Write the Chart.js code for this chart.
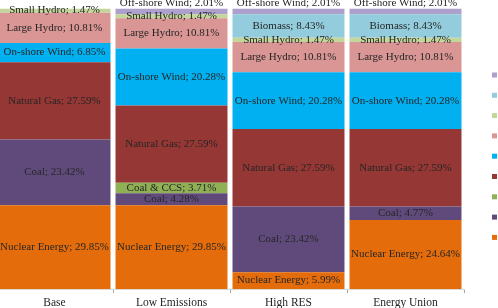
<!DOCTYPE html>
<html lang="en">
<head>
<meta charset="UTF-8">
<title>Generation mix by scenario</title>
<style>
  html, body { margin: 0; padding: 0; background: #fff; overflow: hidden; }
  #wrap { position: relative; width: 498px; height: 308px; overflow: hidden; }
  #mix { position: absolute; left: -4px; top: 0; }
</style>
</head>
<body>
<div id="wrap"><canvas id="mix" width="502" height="308"></canvas></div>
<script src="https://cdn.jsdelivr.net/npm/chart.js"></script>
<script>
  // scenarios and shares (%) per technology, bottom to top of each stack
  const scenarios = ['Base', 'Low Emissions', 'High RES', 'Energy Union'];
  const nuclear    = [29.85, 29.85, 5.99, 24.64];
  const coal       = [23.42, 4.28, 23.42, 4.77];
  const coalCCS    = [null, 3.71, null, null];
  const naturalGas = [27.59, 27.59, 27.59, 27.59];
  const onshore    = [6.85, 20.28, 20.28, 20.28];
  const largeHydro = [10.81, 10.81, 10.81, 10.81];
  const smallHydro = [1.47, 1.47, 1.47, 1.47];
  const biomass    = [null, null, 8.43, 8.43];
  const offshore   = [null, 2.01, 2.01, 2.01];

  const series = [
    { name: 'Nuclear Energy', data: nuclear,    color: '#E46C0A' },
    { name: 'Coal',           data: coal,       color: '#604A7B' },
    { name: 'Coal & CCS',     data: coalCCS,    color: '#8FB054' },
    { name: 'Natural Gas',    data: naturalGas, color: '#953735' },
    { name: 'On-shore Wind',  data: onshore,    color: '#00B0F0' },
    { name: 'Large Hydro',    data: largeHydro, color: '#D99694' },
    { name: 'Small Hydro',    data: smallHydro, color: '#C3D69B' },
    { name: 'Biomass',        data: biomass,    color: '#93CDDD' },
    { name: 'Off-shore Wind', data: offshore,   color: '#ADA0CC' }
  ];

  const serif = '"Liberation Serif", "Times New Roman", serif';

  // text inside each segment; off-shore wind sits above the stack
  const segmentLabels = {
    id: 'segmentLabels',
    afterDatasetsDraw(chart) {
      const ctx = chart.ctx;
      ctx.save();
      ctx.font = '11px ' + serif;
      ctx.fillStyle = '#262626';
      ctx.textAlign = 'center';
      ctx.textBaseline = 'middle';
      chart.data.datasets.forEach((ds, di) => {
        const meta = chart.getDatasetMeta(di);
        meta.data.forEach((bar, i) => {
          const v = ds.data[i];
          if (v == null) return;
          const txt = ds.label + '; ' + v.toFixed(2) + '%';
          let y = (bar.y + bar.base) / 2;
          if (ds.label === 'Off-shore Wind') y = bar.y - 5.5;
          ctx.fillText(txt, bar.x, y);
        });
      });
      ctx.restore();
    }
  };

  // colour squares on the right edge (legend text is cut off in the original)
  const sideKeys = {
    id: 'sideKeys',
    afterDraw(chart) {
      const ctx = chart.ctx;
      const ds = chart.data.datasets.slice().reverse();
      ds.forEach((d, i) => {
        ctx.fillStyle = d.backgroundColor;
        ctx.fillRect(496, 72.5 + i * 20.3, 5, 5);
      });
    }
  };

  new Chart(document.getElementById('mix'), {
    type: 'bar',
    data: {
      labels: scenarios,
      datasets: series.map(s => ({
        label: s.name,
        data: s.data,
        backgroundColor: s.color,
        borderWidth: 0,
        barPercentage: 0.957,
        categoryPercentage: 1
      }))
    },
    options: {
      responsive: false,
      animation: false,
      layout: { padding: { top: 8.5, right: 34, left: 0, bottom: 0 } },
      plugins: { legend: { display: false }, tooltip: { enabled: false } },
      scales: {
        x: {
          stacked: true,
          offset: true,
          grid: { display: true, drawOnChartArea: false, tickLength: 4, color: '#a6a6a6' },
          border: { display: true, color: '#d9d9d9' },
          ticks: { color: '#262626', font: { family: serif, size: 11.5 }, padding: 3, maxRotation: 0 },
          afterFit(scale) { scale.height = 19; }
        },
        y: { stacked: true, display: false, min: 0, max: 100 }
      }
    },
    plugins: [segmentLabels, sideKeys]
  });
</script>
</body>
</html>
